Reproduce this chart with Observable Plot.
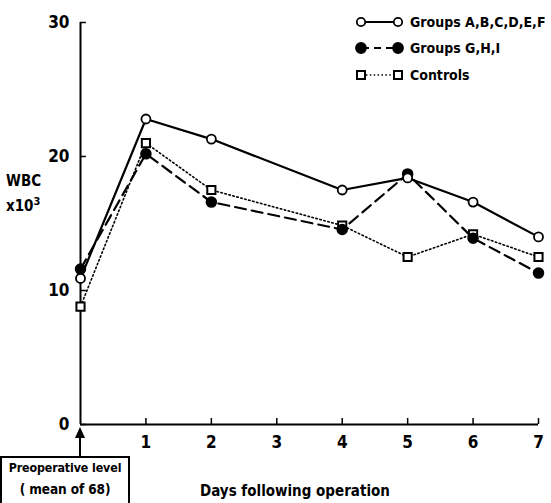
<!DOCTYPE html>
<html><head><meta charset="utf-8">
<script src="https://cdn.jsdelivr.net/npm/d3@7"></script>
<script src="https://cdn.jsdelivr.net/npm/@observablehq/plot@0.6"></script>
<style>
body{margin:0;background:#fff}
#wrap{position:relative;width:551px;height:503px;overflow:hidden;font-family:"DejaVu Sans Condensed","Liberation Sans Narrow",sans-serif;font-weight:bold;color:#000}
.ov{position:absolute;white-space:nowrap;line-height:1}
</style></head><body><div id="wrap"></div>
<script>
const days = [0, 1, 2, 4, 5, 6, 7];
const groupsAF = [10.9, 22.8, 21.3, 17.5, 18.4, 16.6, 14.0];
const groupsGHI = [11.6, 20.2, 16.6, 14.55, 18.7, 13.9, 11.3];
const controls = [8.8, 21.0, 17.5, 14.85, 12.5, 14.2, 12.5];
const seriesNames = ["Groups A,B,C,D,E,F", "Groups G,H,I", "Controls"];
const xTicks = [1, 2, 3, 4, 5, 6, 7];
const yTicks = [0, 10, 20, 30];
const yTitle = ["WBC", "x10", "3"];
const preopNote = ["Preoperative level", "( mean of 68)"];
const xTitle = "Days following operation";

const FONT = '"DejaVu Sans Condensed","Liberation Sans Narrow",sans-serif';
const rows = (vals) => days.map((d, i) => ({day: d, wbc: vals[i]}));
const rAF = rows(groupsAF), rGHI = rows(groupsGHI), rC = rows(controls);

const chart = Plot.plot({
  width: 551, height: 503,
  marginLeft: 80, marginRight: 13, marginTop: 22, marginBottom: 79,
  style: {fontFamily: FONT, fontWeight: "bold", fontSize: "16px", background: "white", color: "black"},
  x: {domain: [0, 7], label: null},
  y: {domain: [0, 30], label: null},
  marks: [
    Plot.ruleX([0], {y1: 0, y2: 30, strokeWidth: 2}),
    Plot.ruleY([0], {x1: 0, x2: 7, strokeWidth: 2}),
    Plot.ruleY(yTicks, {x1: 0, x2: 0.09, strokeWidth: 1.5}),
    Plot.ruleX(xTicks, {y1: 0, y2: 0.45, strokeWidth: 1.5}),
    Plot.axisY(yTicks, {tickSize: 0, tickPadding: 11, fontSize: 17, fontWeight: "bold", label: null}),
    Plot.axisX(xTicks, {tickSize: 0, tickPadding: 11, fontSize: 17, fontWeight: "bold", label: null}),
    Plot.line(rC, {x: "day", y: "wbc", stroke: "black", strokeWidth: 1.6, strokeDasharray: "1.5,2.6"}),
    Plot.line(rGHI, {x: "day", y: "wbc", stroke: "black", strokeWidth: 2.2, strokeDasharray: "11,6"}),
    Plot.line(rAF, {x: "day", y: "wbc", stroke: "black", strokeWidth: 2.2}),
    Plot.dot(rC, {x: "day", y: "wbc", symbol: "square", r: 4.6, fill: "white", stroke: "black", strokeWidth: 2}),
    Plot.dot(rGHI, {x: "day", y: "wbc", r: 5, fill: "black", stroke: "black"}),
    Plot.dot(rAF, {x: "day", y: "wbc", r: 4.5, fill: "white", stroke: "black", strokeWidth: 1.8})
  ]
});

const wrap = document.getElementById("wrap");
wrap.appendChild(chart);

function ov(html, css) {
  const d = document.createElement("div");
  d.className = "ov";
  d.innerHTML = html;
  Object.assign(d.style, css);
  wrap.appendChild(d);
  return d;
}
// y title
ov(yTitle[0], {left: "6px", top: "174px", fontSize: "15px"});
ov(`${yTitle[1]}<span style="font-size:11px;vertical-align:6px">${yTitle[2]}</span>`, {left: "6px", top: "196px", fontSize: "15px"});
// x title
ov(xTitle, {left: "200px", top: "484px", fontSize: "15px"});
// preop box
ov(`<div>${preopNote[0]}</div><div style="margin-top:9px;font-size:13.5px">${preopNote[1]}</div>`,
  {left: "0px", top: "456px", width: "130px", height: "60px", border: "2px solid black", textAlign: "center",
   fontSize: "12.3px", paddingTop: "4px", boxSizing: "border-box", letterSpacing: "-0.1px"});

// arrow + legend as an overlay svg
const svg = d3.create("svg").attr("width", 551).attr("height", 503)
  .style("position", "absolute").style("left", 0).style("top", 0).style("pointer-events", "none");
svg.append("line").attr("x1", 80).attr("x2", 80).attr("y1", 456).attr("y2", 434).attr("stroke", "black").attr("stroke-width", 2);
svg.append("path").attr("d", "M80,427 L75,438 L85,438 Z").attr("fill", "black");

const legendStyles = [
  {dash: null, w: 2.2, sym: "circle", fill: "white"},
  {dash: "7,5", w: 2.2, sym: "circle", fill: "black"},
  {dash: "1.5,2.4", w: 1.6, sym: "square", fill: "white"}
];
const legY = [22, 48, 75];
seriesNames.forEach((name, i) => {
  const s = legendStyles[i], y = legY[i];
  const g = svg.append("g");
  g.append("line").attr("x1", 362).attr("x2", 397).attr("y1", y).attr("y2", y)
    .attr("stroke", "black").attr("stroke-width", s.w).attr("stroke-dasharray", s.dash);
  [361, 398].forEach(x => {
    if (s.sym === "circle") {
      g.append("circle").attr("cx", x).attr("cy", y).attr("r", s.fill === "black" ? 5 : 4.2)
        .attr("fill", s.fill).attr("stroke", "black").attr("stroke-width", 1.8);
    } else {
      g.append("rect").attr("x", x - 4).attr("y", y - 4).attr("width", 8).attr("height", 8)
        .attr("fill", "white").attr("stroke", "black").attr("stroke-width", 2);
    }
  });
  g.append("text").attr("x", 410).attr("y", y).attr("dy", "0.35em")
    .attr("font-family", FONT).attr("font-weight", "bold").attr("font-size", 14).text(name);
});
wrap.appendChild(svg.node());
</script>
</body></html>
